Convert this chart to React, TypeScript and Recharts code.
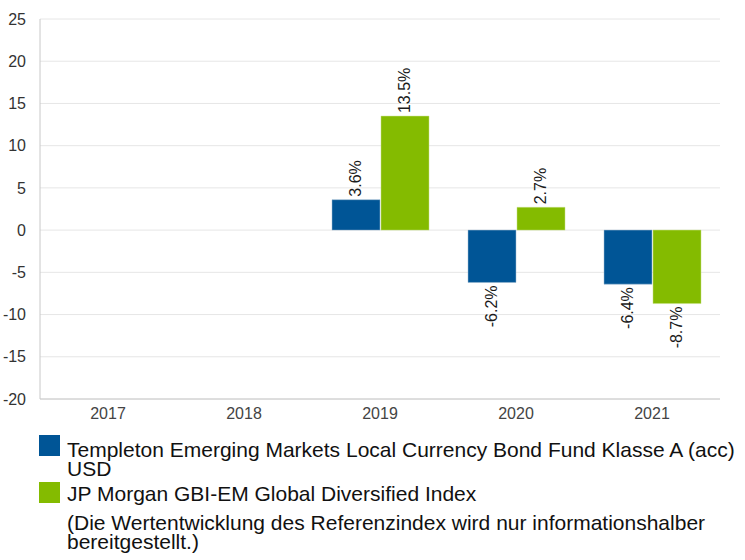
import { BarChart, Bar, XAxis, YAxis, CartesianGrid, LabelList } from "recharts";

const years = ["2017", "2018", "2019", "2020", "2021"];
const fundValues: (number | null)[] = [null, null, 3.6, -6.2, -6.4];
const indexValues: (number | null)[] = [null, null, 13.5, 2.7, -8.7];
const yTicks = [-20, -15, -10, -5, 0, 5, 10, 15, 20, 25];

const fundNameLines = ["Templeton Emerging Markets Local Currency Bond Fund Klasse A (acc)", "USD"];
const indexNameLines = ["JP Morgan GBI-EM Global Diversified Index"];
const noteLines = ["(Die Wertentwicklung des Referenzindex wird nur informationshalber", "bereitgestellt.)"];

const BLUE = "#005596";
const GREEN = "#84bb00";
const FONT = "'Liberation Sans', Arial, sans-serif";

const data = years.map((y, i) => ({ year: y, fund: fundValues[i], index: indexValues[i] }));

const renderLabel = (props: any) => {
  const { x, y, width, height, value } = props;
  if (value == null) return null;
  const cx = Number(x) + Number(width) / 2;
  const top = Math.min(Number(y), Number(y) + Number(height));
  const bottom = Math.max(Number(y), Number(y) + Number(height));
  const pos = value >= 0;
  const ty = pos ? top - 3 : bottom + 3;
  return (
    <text
      x={cx}
      y={ty}
      transform={`rotate(-90 ${cx} ${ty})`}
      textAnchor={pos ? "start" : "end"}
      dominantBaseline="central"
      fontSize={16}
      fontFamily={FONT}
      fill="#1a1a1a"
    >
      {`${value.toFixed(1)}%`}
    </text>
  );
};

const textBlock = (lines: string[], top: number) => (
  <div style={{ position: "absolute", left: 67, top, fontSize: 21, lineHeight: "19px", color: "#111" }}>
    {lines.map((l) => (
      <div key={l} style={{ whiteSpace: "nowrap", height: 19 }}>{l}</div>
    ))}
  </div>
);

export default function App() {
  return (
    <div style={{ position: "absolute", left: 0, top: 0, width: 745, height: 560, background: "#fff", fontFamily: FONT, overflow: "hidden" }}>
      <BarChart
        width={745}
        height={425}
        data={data}
        margin={{ top: 19, right: 25, bottom: 0, left: 0 }}
        barCategoryGap={20}
        barGap={1}
      >
        <CartesianGrid vertical={false} stroke="#e6e6e6" />
        <XAxis
          dataKey="year"
          height={26}
          tickLine={false}
          axisLine={{ stroke: "#c8c8c8" }}
          tick={{ fontSize: 16, fill: "#444", fontFamily: FONT }}
          tickMargin={3}
        />
        <YAxis
          width={40}
          domain={[-20, 25]}
          ticks={yTicks}
          tickLine={false}
          axisLine={{ stroke: "#c8c8c8" }}
          tick={{ fontSize: 16, fill: "#333", fontFamily: FONT }}
          tickMargin={8}
          interval={0}
        />
        <Bar dataKey="fund" fill={BLUE} stroke="#9fb8d0" strokeWidth={0.5} isAnimationActive={false}>
          <LabelList dataKey="fund" content={renderLabel} />
        </Bar>
        <Bar dataKey="index" fill={GREEN} stroke="#c4de80" strokeWidth={0.5} isAnimationActive={false}>
          <LabelList dataKey="index" content={renderLabel} />
        </Bar>
      </BarChart>
      <div style={{ position: "absolute", left: 39, top: 435, width: 21, height: 21, background: BLUE }} />
      <div style={{ position: "absolute", left: 39, top: 482, width: 21, height: 21, background: GREEN }} />
      {textBlock(fundNameLines, 440)}
      {textBlock(indexNameLines, 484)}
      {textBlock(noteLines, 513)}
    </div>
  );
}
